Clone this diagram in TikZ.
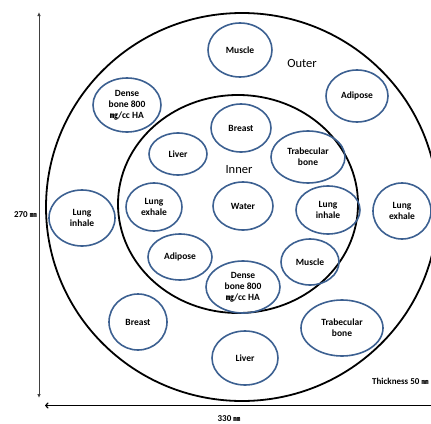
\documentclass[tikz,border=0pt]{standalone}
\usepackage{fontspec}
\setmainfont{Carlito}
\newfontfamily\cjk{Noto Sans CJK KR}
\usetikzlibrary{arrows.meta}
\definecolor{ringblue}{RGB}{60,96,145}
\newcommand{\mmunit}{{\cjk\fontsize{7}{8}\selectfont ㎜}}
\newcommand{\mgunit}{{\cjk\fontsize{8}{9}\selectfont ㎎}}
\begin{document}
\begin{tikzpicture}[x=1pt,y=-1pt,
  lbl/.style={font=\fontsize{9.5}{11}\selectfont\bfseries,align=center,inner sep=0pt},
  ring/.style={draw=black,line width=1.8pt},
  title/.style={font=\fontsize{12.5}{14}\selectfont,inner sep=0pt},
  dim/.style={font=\fontsize{9}{10}\selectfont\bfseries,inner sep=0pt}]
\useasboundingbox (0,0) rectangle (431,423);
% rings
\draw[ring] (242,207) ellipse [x radius=196,y radius=194];
\draw[ring] (238,204) ellipse [x radius=120,y radius=109];
% inserts
\newcommand{\ins}[6]{%
  \draw[draw=ringblue,line width=1.6pt] (#2,#3) ellipse [x radius=#4,y radius=#5];
  \node[lbl] (#1) at (#2,#3) {#6};}
% outer
\ins{omus}{240}{50}{32}{27}{Muscle}
\ins{oadi}{357}{96}{31}{26}{Adipose}
\ins{oden}{127}{105}{34}{27}{Dense\\bone 800\\\mgunit/cc HA}
\ins{olin}{82}{218}{33}{28}{Lung\\inhale}
\ins{olex}{402}{211}{29}{28}{Lung\\exhale}
\ins{obre}{138}{322}{29}{28}{Breast}
\ins{otra}{342}{328}{41}{28}{Trabecular\\bone}
\ins{oliv}{245}{358}{33}{27}{Liver}
% inner
\ins{ibre}{241}{128}{30}{24}{Breast}
\ins{iliv}{178}{154}{29}{21}{Liver}
\ins{itra}{308}{157}{37}{26}{Trabecular\\bone}
\ins{iwat}{243}{206}{30}{24}{Water}
\ins{ilex}{154}{207}{28}{24}{Lung\\exhale}
\ins{ilin}{328}{210}{32}{24}{Lung\\inhale}
\ins{iadi}{180}{257}{32}{23}{Adipose}
\ins{imus}{310}{262}{29}{23}{Muscle}
\ins{iden}{243}{287}{37}{26}{Dense\\bone 800\\\mgunit/cc HA}
% titles
\node[title] (outer) at (302,63) {Outer};
\node[title] (inner) at (239,170) {Inner};
% dimensions
\coordinate (vt) at (39,12);
\coordinate (vb) at (39,398);
\draw[line width=0.9pt,draw=black!75,{Latex[length=4pt,width=3.5pt]}-{Latex[length=4pt,width=3.5pt]}] (vt) -- (vb);
\coordinate (hl) at (45,405.5);
\coordinate (hr) at (440,405.5);
\draw[line width=1.1pt,{To[length=3.5pt,width=6pt]}-] (hl) -- (hr);
\node[dim,anchor=east] (h270) at (37,215) {270 \mmunit};
\node[dim] (w330) at (229,419) {330 \mmunit};
\node[dim,anchor=west] (thk) at (372,381) {Thickness 50 \mmunit};
\end{tikzpicture}
\end{document}
